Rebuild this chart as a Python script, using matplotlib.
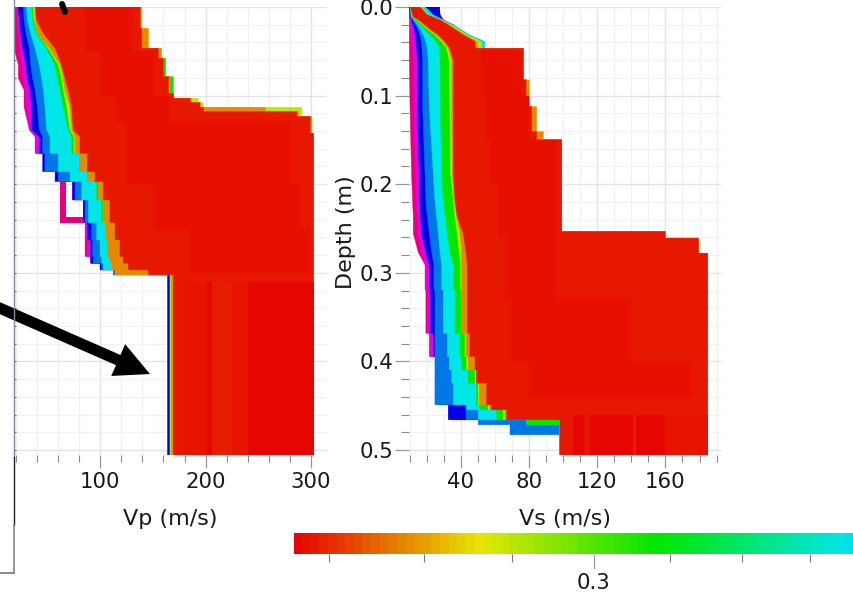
import numpy as np
import matplotlib
matplotlib.use('Agg')
import matplotlib.pyplot as plt
from matplotlib.colors import LinearSegmentedColormap, LogNorm
from matplotlib.lines import Line2D
from matplotlib.ticker import NullFormatter

# misfit of each group of models, back to front
misfit_pink = 0.56
misfit_magenta = 0.508
misfit_blue = 0.434
misfit_sky = 0.40
misfit_cyan = 0.37
misfit_green = 0.316
misfit_yellow = 0.28
misfit_orange = 0.256
misfit_red = 0.2375
misfit_deep = 0.2355

# Vp envelopes
vp_z = [0.0, 0.0147, 0.0297, 0.0466, 0.0654, 0.0805, 0.0936, 0.1124, 0.1387, 0.1463,
        0.1651, 0.1857, 0.197, 0.2177, 0.2433, 0.2628, 0.2816, 0.2891, 0.2967, 0.3023]
vp_pink = [18, 18, 18, 18, 22.1, 22.1, 27.5, 27.5, 32.6, 38, 51.6, 60.1, 73.7, 83.9, 85.5, 85.5, 90.9, 101.3, 112.4, 164.7]
vp_magenta = [20.5, 21.1, 22.1, 23.7, 25.3, 26.9, 28.4, 30, 32.6, 38.9, 52.2, 61, 73.7, 83.9, 86.4, 87.7, 91.5, 101.6, 112.4, 164.7]
vp_blue = [22.1, 23, 24.3, 26.2, 29.4, 30.6, 33.2, 34.8, 34.8, 42, 45.2, 57, 73.7, 83.9, 87.7, 90.9, 90.9, 99.7, 112.4, 163.8]
vp_sky = [26.9, 27.5, 29.4, 32.6, 33.8, 35.7, 38, 40.2, 42, 45.2, 47.4, 60.1, 76, 85.5, 91.8, 92.8, 93.4, 101.3, 112.4, 166.3]
vp_cyan = [30, 30.6, 33.8, 38, 42, 44.3, 45.9, 47.4, 49, 52.2, 60.1, 71.2, 82.3, 88.6, 96.6, 99.7, 101.3, 102.9, 114, 166.3]
vp_green = [34.8, 35.7, 38.9, 49, 57, 59.2, 61.7, 64.9, 69.6, 72.8, 80, 87.7, 96.6, 101.3, 112.4, 114, 115.6, 117.2, 120.3, 166.3]
vp_yellow = [36.4, 37, 40.2, 50.6, 60.1, 63.3, 64.9, 68, 71.2, 75, 80.7, 88.3, 98.1, 102.9, 107.7, 109.2, 109.2, 110.8, 114, 166.3]
vp_orange = [38, 38, 40.2, 52.2, 61.7, 64.9, 66.5, 71.2, 72.8, 76, 80.7, 88.3, 98.1, 102.9, 105.4, 106.7, 109.2, 110.8, 114, 167.6]
vp_red = [38, 39.5, 45.9, 57, 63.3, 66.5, 69.6, 72.8, 74.4, 80.7, 87.7, 95, 102.9, 109.2, 114, 118.7, 121.9, 126.7, 145.7, 169.5]

vp_right_z = [0, 0.0241, 0.0466, 0.0579, 0.0786, 0.0974, 0.103, 0.1079, 0.1132, 0.1181, 0.1237, 0.1425]
vp_right_red = [137.8, 139.3, 155.2, 159.9, 164.7, 169.5, 185.3, 194.8, 198, 286.7, 299.4, 302.6]
vp_right_orange = [139.3, 145.7, 158.4, 159.9, 166.3, 169.5, 186.9, 194.8, 256.6, 288.3, 301, 302.6]
vp_right_green = [137.8, 139.3, 155.2, 162.2, 169.5, 169.5, 185.3, 194.8, 198, 286.7, 299.4, 302.6]
vp_right_yellow = [137.8, 139.3, 155.2, 159.9, 164.7, 169.5, 193.2, 198, 291.5, 291.5, 301, 302.6]

vp_deep_z = [0, 0.05, 0.1, 0.13, 0.2, 0.25]
vp_deep_left = [85, 100, 115, 125, 150, 185]
vp_deep_right = [130, 150, 165, 280, 290, 300]

vp_hook_v = [64.9, 64.9, 83.9]
vp_hook_d = [0.197, 0.24, 0.24]

vp_stripe_edges = [169.5, 180.5, 201.1, 205.9, 224.9, 240.8, 302.6]
vp_stripe_misfit = [0.2375, 0.2365, 0.2345, 0.238, 0.2365, 0.2345]

# Vs envelopes
vs_z = [0.0, 0.0109, 0.0147, 0.0241, 0.0316, 0.0391, 0.0466, 0.0598, 0.1124, 0.1876, 0.2177, 0.2365, 0.2553,
        0.2767, 0.291, 0.3192, 0.3681, 0.3944, 0.4095, 0.4245, 0.4489, 0.4546, 0.4659, 0.4715, 0.4828]
vs_pink = [9.9, 9.9, 9.9, 9.9, 9.9, 9.9, 9.9, 9.9, 10.3, 11.2, 11.8, 12.2, 12.2, 15.1, 19.1, 19.6, 21.6, 27.9, 27.9, 27.9, 35.7, 35.7, 98.2, 98.2, 98.2]
vs_magenta = [10.1, 10.1, 10.3, 10.6, 11, 11.4, 11.8, 12.2, 12.6, 13.4, 13.8, 14.6, 15.1, 17.1, 19.6, 20.4, 22.4, 27.5, 27.5, 27.9, 35.3, 35.3, 98.2, 98.2, 98.2]
vs_blue = [10.1, 10.3, 11.2, 12.6, 13.4, 13.8, 14.2, 14.6, 14.6, 15.7, 16.1, 16.5, 17.1, 19.6, 21.6, 22.4, 23.9, 25.9, 26.9, 26.9, 32.7, 32.7, 98.2, 98.2, 98.2]
vs_sky = [10.3, 10.6, 11.8, 14.6, 16.1, 16.9, 17.3, 17.7, 17.7, 19.1, 19.6, 20.4, 21.6, 23, 24.3, 24.9, 24.9, 24.9, 24.9, 24.9, 43.1, 43.1, 50.3, 68.9, 98.2]
vs_cyan = [10.5, 11, 12.6, 16.1, 18.1, 19.6, 20.4, 21, 21.6, 23.9, 24.9, 25.9, 26.9, 27.9, 28.8, 29.8, 32.2, 33.3, 34.7, 35.7, 43.5, 50.3, 78.7, 98.2, 98.2]
vs_green = [10.6, 11.4, 13.2, 18.1, 22.4, 25.9, 27.5, 27.9, 28.2, 28.8, 29.8, 31, 32.2, 33.7, 35.7, 36.7, 39.6, 40.6, 44.5, 49.4, 51.3, 61.1, 78.7, 98.2, 98.2]
vs_yellow = [10.6, 11.6, 14.2, 19.6, 24.9, 28.8, 31.8, 33.3, 33.7, 34.1, 35.7, 36.7, 38, 39.2, 40, 40.6, 42.5, 43.5, 48.4, 50.3, 56.2, 65, 98.2, 98.2, 98.2]
vs_orange = [10.6, 11.8, 14.6, 20.4, 25.9, 29.8, 32.7, 34.7, 34.7, 35.1, 36.1, 37.6, 39.6, 40.6, 40.6, 40.6, 43.1, 44.5, 49, 50.9, 57.2, 66, 98.2, 98.2, 98.2]
vs_red = [10.6, 12.2, 15.7, 21.6, 26.9, 30.8, 33.7, 35.7, 35.7, 35.7, 36.7, 38, 41.5, 43.1, 43.9, 43.9, 45.4, 48.4, 49.4, 55.2, 58.2, 67, 98.2, 98.2, 98.2]

vs_right_z = [0, 0.009, 0.0147, 0.0203, 0.0316, 0.0391, 0.0466, 0.0823, 0.1124, 0.1406, 0.15, 0.2534, 0.2609, 0.2779]
vs_right_red = [16.1, 20.4, 27.9, 32.7, 41.5, 48.4, 76.7, 78.3, 81.6, 84.5, 99.2, 159.8, 179.4, 184.8]
vs_right_orange = [16.1, 20.4, 28.2, 33.3, 42.5, 49.7, 76.7, 80.2, 84.5, 88.5, 99.2, 159.8, 179.4, 184.8]
vs_right_green = [17.1, 21, 28.8, 34.7, 44, 52.3, 76.7, 78.3, 81.6, 84.5, 99.2, 159.8, 179.4, 184.8]
vs_right_cyan = [19.1, 23.9, 29.8, 35.7, 45.1, 53.9, 76.7, 78.3, 81.6, 84.5, 99.2, 159.8, 179.4, 184.8]
vs_right_blue = [27.5, 27.9, 29.8, 35.7, 41.5, 48.4, 76.7, 78.3, 81.6, 84.5, 99.2, 159.8, 179.4, 184.8]

vs_deep_z = [0.05, 0.1, 0.15, 0.2, 0.26, 0.33, 0.4]
vs_deep_left = [52, 55, 58, 62, 66, 70, 80]
vs_deep_right = [76, 80, 96, 96, 96, 140, 175]

vs_stripe_edges = [98.2, 106, 112, 116, 141, 143, 160, 184.8]
vs_stripe_misfit = [0.2375, 0.2345, 0.2365, 0.2345, 0.238, 0.2345, 0.2365]

# colour scale
cmap_pos = [0, 0.178, 0.349, 0.529, 0.709, 0.889, 1]
cmap_colors = ['#e60000', '#e6e600', '#00e600', '#00e6e6', '#0000e6', '#e600e6', '#e6007e']
cbar_low = 0.233
cbar_high = 0.3736
cbar_ticks = [0.24, 0.26, 0.28, 0.32, 0.34, 0.36]

cmap = LinearSegmentedColormap.from_list('misfit', list(zip(cmap_pos, cmap_colors)))
norm = LogNorm(0.233, 0.56)
depth_end = 0.5056
W, H = 854, 594
font_tick = 15.3
font_label = 16


def px_axes(fig, x0, y0, x1, y1):
    return fig.add_axes([x0 / W, 1 - y1 / H, (x1 - x0) / W, (y1 - y0) / H])


def edge(vals, z, bottom, slope_until):
    # stairs, except above slope_until where the knots are simply joined
    xs, ys = [], []
    z2 = list(z) + [bottom]
    for i in range(len(vals)):
        if z2[i + 1] <= slope_until:
            xs += [vals[i]]
            ys += [z2[i]]
        else:
            xs += [vals[i], vals[i]]
            ys += [z2[i], z2[i + 1]]
    return xs, ys


def band(ax, left, lz, right, rz, misfit, bottom=depth_end, left_slope=0, right_slope=0):
    lx, ly = edge(left, lz, bottom, left_slope)
    rx, ry = edge(right, rz, bottom, right_slope)
    ax.fill(lx + rx[::-1], ly + ry[::-1], color=cmap(norm(misfit)), lw=0.3, zorder=3)


def stripes(ax, edges, misfits, top):
    for i in range(len(misfits)):
        ax.fill_betweenx([top, depth_end], edges[i], edges[i + 1], color=cmap(norm(misfits[i])), lw=0, zorder=4)


def style(ax, xlim, major, minor, xlabel):
    ax.set_xlim(*xlim)
    ax.set_ylim(depth_end, 0)
    ax.set_xticks(major)
    ax.set_xticks(minor, minor=True)
    ax.set_yticks([0.0, 0.1, 0.2, 0.3, 0.4, 0.5])
    ax.set_yticks(np.arange(0, 0.51, 0.02), minor=True)
    ax.grid(True, which='minor', color='#f1f1f4', lw=0.9)
    ax.grid(True, which='major', color='#e2e2e8', lw=1.0)
    ax.set_axisbelow(True)
    for s in ax.spines.values():
        s.set_visible(False)
    ax.tick_params(axis='x', which='major', length=9.5, width=0.9, color='#999999', labelsize=font_tick, pad=3, labelcolor='#1a1a1a')
    ax.tick_params(axis='x', which='minor', length=4.8, width=0.8, color='#888888')
    ax.set_xlabel(xlabel, fontsize=font_label, color='#1a1a1a', labelpad=12)


fig = plt.figure(figsize=(8.54, 5.94), dpi=100)

# Vp panel
ax1 = px_axes(fig, 14, 7, 327, 455)
style(ax1, (17.97, 315.4), [100, 200, 300], np.arange(20, 301, 20), 'Vp (m/s)')
ax1.tick_params(axis='y', which='both', direction='in', length=1.5, width=0.8, color='#666666', labelleft=False)
ax1.spines['left'].set_visible(True)
ax1.spines['left'].set_color('#8a8aa8')

vp_slope = 0.15
band(ax1, vp_pink, vp_z, vp_right_red, vp_right_z, misfit_pink, left_slope=vp_slope)
ax1.plot(vp_hook_v, vp_hook_d, color=cmap(norm(misfit_pink)), lw=4.3, zorder=3, solid_joinstyle='miter')
band(ax1, vp_magenta, vp_z, vp_right_red, vp_right_z, misfit_magenta, left_slope=vp_slope)
band(ax1, vp_blue, vp_z, vp_right_red, vp_right_z, misfit_blue, left_slope=vp_slope)
band(ax1, vp_sky, vp_z, vp_right_red, vp_right_z, misfit_sky, left_slope=vp_slope)
band(ax1, vp_cyan, vp_z, vp_right_red, vp_right_z, misfit_cyan, left_slope=vp_slope)
band(ax1, vp_green, vp_z, vp_right_green, vp_right_z, misfit_green, left_slope=vp_slope)
band(ax1, vp_yellow, vp_z, vp_right_yellow, vp_right_z, misfit_yellow, left_slope=vp_slope)
band(ax1, vp_orange, vp_z, vp_right_orange, vp_right_z, misfit_orange, left_slope=vp_slope)
band(ax1, vp_red, vp_z, vp_right_red, vp_right_z, misfit_red, left_slope=vp_slope)
band(ax1, vp_deep_left, vp_deep_z, vp_deep_right, vp_deep_z, misfit_deep, bottom=0.3)
stripes(ax1, vp_stripe_edges, vp_stripe_misfit, 0.31)

# the arrows drawn over the figure
ax1.annotate('', xy=(147.2, 0.4142), xytext=(-6.7, 0.334), annotation_clip=False, zorder=8,
             arrowprops=dict(facecolor='black', edgecolor='none', width=8, headwidth=25, headlength=25, shrink=0))
ax1.plot([63.6, 66.4], [-0.0034, 0.0056], color='black', lw=4.3, solid_capstyle='round', clip_on=False, zorder=8)

# Vs panel
ax2 = px_axes(fig, 409, 7, 721, 455)
style(ax2, (9.7, 192.6), [40, 80, 120, 160], np.arange(10, 191, 10), 'Vs (m/s)')
ax2.tick_params(axis='y', which='major', length=10, width=0.9, color='#999999', labelsize=font_tick, pad=1, labelcolor='#1a1a1a')
ax2.tick_params(axis='y', which='minor', length=5.5, width=0.8, color='#888888')
ax2.set_yticklabels(['0.0', '0.1', '0.2', '0.3', '0.4', '0.5'])
ax2.set_ylabel('Depth (m)', fontsize=font_label, color='#1a1a1a', labelpad=3, y=0.498)

vs_slope = 0.3
vs_rslope = 0.0391
band(ax2, vs_pink, vs_z, vs_right_blue, vs_right_z, misfit_pink, left_slope=vs_slope, right_slope=vs_rslope)
band(ax2, vs_magenta, vs_z, vs_right_blue, vs_right_z, misfit_magenta, left_slope=vs_slope, right_slope=vs_rslope)
band(ax2, vs_blue, vs_z, vs_right_blue, vs_right_z, misfit_blue, left_slope=vs_slope, right_slope=vs_rslope)
band(ax2, vs_sky, vs_z, vs_right_cyan, vs_right_z, misfit_sky, left_slope=vs_slope, right_slope=vs_rslope)
band(ax2, vs_cyan, vs_z, vs_right_cyan, vs_right_z, misfit_cyan, left_slope=vs_slope, right_slope=vs_rslope)
band(ax2, vs_green, vs_z, vs_right_green, vs_right_z, misfit_green, left_slope=vs_slope, right_slope=vs_rslope)
band(ax2, vs_yellow, vs_z, vs_right_green, vs_right_z, misfit_yellow, left_slope=vs_slope, right_slope=vs_rslope)
band(ax2, vs_orange, vs_z, vs_right_orange, vs_right_z, misfit_orange, left_slope=vs_slope, right_slope=vs_rslope)
band(ax2, vs_red, vs_z, vs_right_red, vs_right_z, misfit_red, left_slope=vs_slope, right_slope=vs_rslope)
band(ax2, vs_deep_left, vs_deep_z, vs_deep_right, vs_deep_z, misfit_deep, bottom=0.44)
stripes(ax2, vs_stripe_edges, vs_stripe_misfit, 0.46)

# colour bar, cut off by the right edge of the picture
ax3 = px_axes(fig, 293.5, 533, 854, 554)
edges = np.geomspace(cbar_low, cbar_high, 66)
mids = np.sqrt(edges[:-1] * edges[1:])
ax3.pcolormesh(edges, [0, 1], mids[np.newaxis, :], cmap=cmap, norm=norm, rasterized=True)
ax3.set_xscale('log')
ax3.set_xlim(cbar_low, cbar_high)
ax3.set_yticks([])
ax3.set_xticks([0.3])
ax3.set_xticklabels(['0.3'])
ax3.set_xticks(cbar_ticks, minor=True)
ax3.xaxis.set_minor_formatter(NullFormatter())
ax3.tick_params(axis='x', which='major', length=11, width=0.9, color='#999999', labelsize=font_tick, pad=3, labelcolor='#1a1a1a')
ax3.tick_params(axis='x', which='minor', length=5.5, width=0.8, color='#777777')
for s in ax3.spines.values():
    s.set_visible(False)

# frame of the panel behind, at the left
fig.add_artist(Line2D([14 / W, 14 / W], [1, 1 - 457 / H], color='#8a8aa8', lw=1.0))
fig.add_artist(Line2D([14 / W, 14 / W], [1 - 457 / H, 1 - 525 / H], color='#222222', lw=1.0))
fig.add_artist(Line2D([14 / W, 14 / W], [1 - 525 / H, 1 - 573 / H], color='#888888', lw=1.2))
fig.add_artist(Line2D([0, 14 / W], [1 - 573 / H, 1 - 573 / H], color='#777777', lw=1.2))

fig.savefig('out.png', dpi=100)
